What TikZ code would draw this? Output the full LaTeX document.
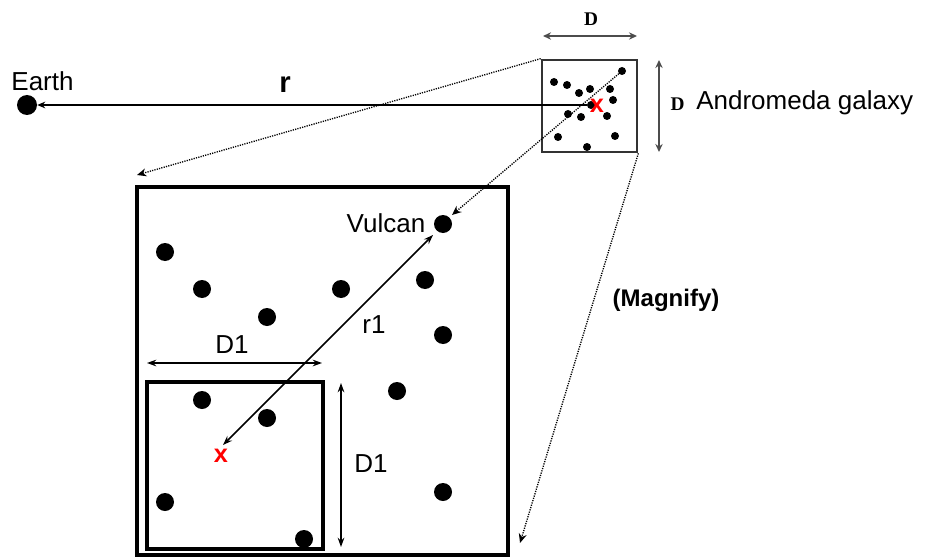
\documentclass[tikz,border=0pt]{standalone}
\usepackage{fontspec}
\setmainfont{Liberation Sans}
\newfontfamily\dfont{Liberation Serif}
\usetikzlibrary{arrows.meta}
\begin{document}
\begin{tikzpicture}[x=0.75pt,y=-0.75pt,
  sdot/.style={circle,fill=black,inner sep=0pt,minimum size=6pt},
  bdot/.style={circle,fill=black,inner sep=0pt,minimum size=13.5pt},
  lbl/.style={font=\fontsize{19.5}{22}\selectfont,inner sep=0pt,anchor=base},
  dlbl/.style={font=\dfont\bfseries\fontsize{14.5}{16}\selectfont,inner sep=0pt,anchor=base},
  redx/.style={font=\bfseries\fontsize{19}{20}\selectfont,text=red,inner sep=0pt},
  thinarrow/.style={line width=1.1pt,{Stealth[length=7pt,width=5pt]}-{Stealth[length=7pt,width=5pt]}},
  grayarrow/.style={line width=2pt,draw=black!70,{Stealth[length=6pt,width=5.5pt]}-{Stealth[length=6pt,width=5.5pt]}},
  dotarrow/.style={line width=1pt,dash pattern=on 0.9pt off 0.9pt,-{Stealth[length=7pt,width=6pt]}}
]
\useasboundingbox (0,0) rectangle (930,556);

% small galaxy box
\node[draw=black!80,line width=2pt,minimum width=71.25pt,minimum height=69pt,inner sep=0pt] (sbox) at (589.5,106) {};
\foreach \n/\x/\y in {sd1/622/71,sd2/554/82,sd3/567/85,sd4/579/93,sd5/590/89,sd6/610/89,sd7/613/100,sd8/568/114,sd9/581/117,sd10/607/116,sd11/558/137,sd12/615/136,sd13/587/147,sd14/591/105}
  \node[sdot] (\n) at (\x,\y) {};
\node[redx] (xs) at (597,106) {x};

% Earth
\node[circle,fill=black,inner sep=0pt,minimum size=15pt] (earth) at (27,105) {};
\node[lbl] (earthlbl) at (42.5,91) {Earth};
\draw[line width=1.5pt,-{Stealth[length=6pt,width=5pt]}] (sd14) -- (earth);
\node[lbl,font=\bfseries\fontsize{22}{24}\selectfont] (rlbl) at (285,93) {r};

% D arrows
\coordinate (dta) at (543,36); \coordinate (dtb) at (637,36);
\draw[grayarrow] (dta) -- (dtb);
\node[dlbl] (dtop) at (591,26) {D};
\coordinate (dra) at (659,60); \coordinate (drb) at (659,152);
\draw[grayarrow] (dra) -- (drb);
\node[dlbl] (dright) at (677.5,111) {D};
\node[lbl,anchor=base west] (andro) at (696,110) {Andromeda galaxy};

% big box
\node[draw=black,line width=2.3pt,minimum width=278.25pt,minimum height=276pt,inner sep=0pt] (bbox) at (322.5,371) {};
\node[draw=black,line width=2.3pt,minimum width=132pt,minimum height=125.25pt,inner sep=0pt] (ibox) at (235,465.5) {};

\node[bdot] (vulcan) at (443,224) {};
\node[lbl] (vlbl) at (386,232) {Vulcan};
\foreach \n/\x/\y in {b1/165/252,b2/202/289,b3/341/289,b4/425/280,b5/267/317,b6/443/335,b7/397/391,b8/202/400,b9/267/418,b10/165/502,b11/443/492,b12/304/539}
  \node[bdot] (\n) at (\x,\y) {};
\node[redx] (xb) at (221,456) {x};

% r1
\coordinate (r1a) at (433,235); \coordinate (r1b) at (223,445);
\draw[thinarrow] (r1a) -- (r1b);
\node[lbl] (r1lbl) at (374,333) {r1};

% D1
\coordinate (dha) at (147,363); \coordinate (dhb) at (322,363);
\draw[thinarrow] (dha) -- (dhb);
\node[lbl] (d1h) at (232,353) {D1};
\coordinate (dva) at (341,383); \coordinate (dvb) at (341,547);
\draw[thinarrow] (dva) -- (dvb);
\node[lbl] (d1v) at (371,472) {D1};

% magnify
\coordinate (m1) at (137,175);
\coordinate (m2) at (452,215);
\coordinate (m3) at (520,543);
\draw[dotarrow] (sbox.north west) -- (m1);
\draw[dotarrow] (sd1) -- (m2);
\draw[dotarrow] (sbox.south east) -- (m3);
\node[lbl,font=\bfseries\fontsize{18}{20}\selectfont] (mag) at (666,306) {(Magnify)};
\end{tikzpicture}
\end{document}
